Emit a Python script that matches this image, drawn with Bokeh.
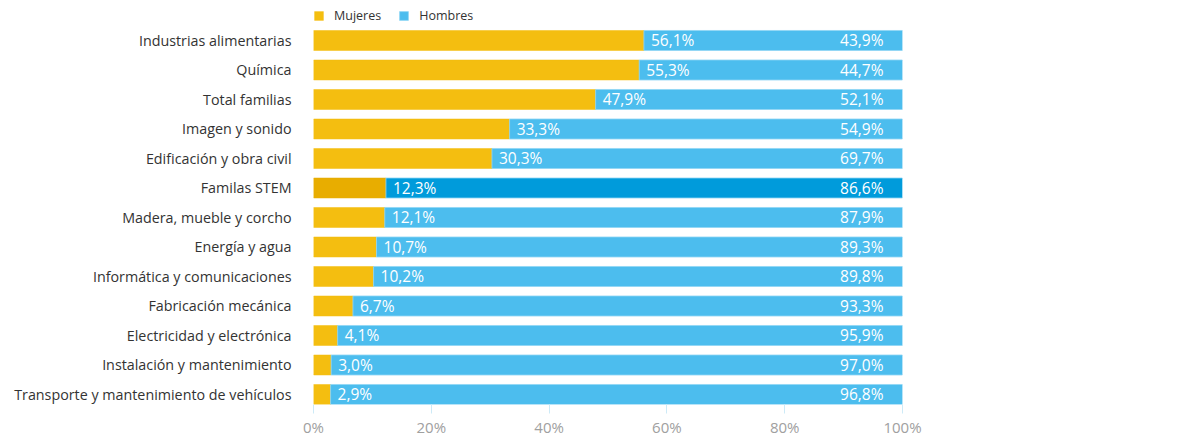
from bokeh.plotting import figure
from bokeh.models import ColumnDataSource, FixedTicker, Legend, LegendItem, LabelSet
from bokeh.core.properties import value
from bokeh.embed import file_html
from bokeh.resources import INLINE

categorias = ["Industrias alimentarias", "Química", "Total familias", "Imagen y sonido",
              "Edificación y obra civil", "Familas STEM", "Madera, mueble y corcho",
              "Energía y agua", "Informática y comunicaciones", "Fabricación mecánica",
              "Electricidad y electrónica", "Instalación y mantenimiento",
              "Transporte y mantenimiento de vehículos"]
mujeres = [56.1, 55.3, 47.9, 33.3, 30.3, 12.3, 12.1, 10.7, 10.2, 6.7, 4.1, 3.0, 2.9]
hombres = [43.9, 44.7, 52.1, 54.9, 69.7, 86.6, 87.9, 89.3, 89.8, 93.3, 95.9, 97.0, 96.8]
destacado = "Familas STEM"
x_ticks = [0, 20, 40, 60, 80, 100]
x_tick_labels = ["0%", "20%", "40%", "60%", "80%", "100%"]

FONT = "Open Sans"
n = len(categorias)
ypos = [n - 1 - i for i in range(n)]
total = [100.0] * n
fmt = lambda v: f"{v:.1f}%".replace(".", ",")

src = ColumnDataSource(dict(
    y=ypos,
    muj=mujeres,
    tot=total,
    col_m=["#E8AD00" if c == destacado else "#F4BE10" for c in categorias],
    col_h=["#009BDB" if c == destacado else "#4CBDEE" for c in categorias],
    lab_m=[fmt(v) for v in mujeres],
    lab_h=[fmt(v) for v in hombres],
))

FH = 404
p = figure(width=1172, height=443, output_backend="svg", toolbar_location=None,
           x_range=(0, 100), y_range=(-0.339, n - 1 + 40 / 29.5),
           min_border_left=313, min_border_top=0, min_border_bottom=39, min_border_right=270)
p.outline_line_color = None
p.grid.grid_line_color = None

bh = 0.678
r_m = p.hbar(y="y", left=0, right="muj", height=bh, source=src, fill_color="col_m",
             line_color="col_m", line_width=0.5)
r_h = p.hbar(y="y", left="muj", right="tot", height=bh, source=src, fill_color="col_h",
             line_color="#8FD6F5", line_width=0.8)

p.add_layout(LabelSet(x="muj", y="y", text="lab_m", source=src, x_offset=7, text_align="left",
                      text_baseline="middle", text_color="white", text_font=value(FONT),
                      text_font_size="15.5px"))
p.add_layout(LabelSet(x="tot", y="y", text="lab_h", source=src, x_offset=-19, text_align="right",
                      text_baseline="middle", text_color="white", text_font=value(FONT),
                      text_font_size="15.5px"))

xa = p.xaxis[0]
xa.ticker = FixedTicker(ticks=x_ticks)
xa.major_label_overrides = {t: l for t, l in zip(x_ticks, x_tick_labels)}
xa.axis_line_color = None
xa.major_tick_line_color = "#CDEAF7"
xa.major_tick_in = 0
xa.major_tick_out = 9
xa.minor_tick_line_color = None
xa.major_label_text_color = "#A0A0A0"
xa.major_label_text_font = FONT
xa.major_label_text_font_size = "15px"
xa.major_label_standoff = 3

ya = p.yaxis[0]
ya.ticker = FixedTicker(ticks=ypos)
ya.major_label_overrides = {y: c for y, c in zip(ypos, categorias)}
ya.axis_line_color = None
ya.major_tick_line_color = None
ya.minor_tick_line_color = None
ya.major_label_text_color = "#333333"
ya.major_label_text_font = FONT
ya.major_label_text_font_size = "14.3px"
ya.major_label_standoff = 16

legend = Legend(items=[LegendItem(label="Mujeres", renderers=[r_m], index=0),
                       LegendItem(label="Hombres", renderers=[r_h], index=0)],
                orientation="horizontal", location=(0, FH - 24),
                glyph_width=11, glyph_height=11, label_height=11, label_standoff=10,
                spacing=17, padding=0, margin=0, border_line_color=None,
                background_fill_alpha=0, label_text_font=FONT, label_text_font_size="12.5px",
                label_text_color="#333333")
p.add_layout(legend)

open("out.html", "w").write(file_html(p, INLINE))
